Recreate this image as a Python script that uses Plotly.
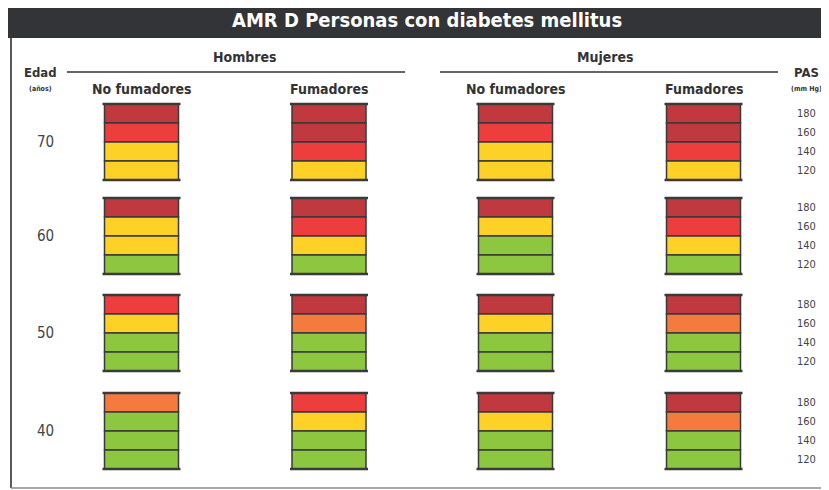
import plotly.graph_objects as go

# Datos: nivel de riesgo (1 verde ... 5 rojo oscuro) por edad y grupo
# cada lista: PAS 180, 160, 140, 120 (de arriba a abajo)
edades = [70, 60, 50, 40]
grupos = ["Hombres No fumadores", "Hombres Fumadores", "Mujeres No fumadores", "Mujeres Fumadores"]
pas = [180, 160, 140, 120]

riesgo_70 = [[5, 4, 2, 2], [5, 5, 4, 2], [5, 4, 2, 2], [5, 5, 4, 2]]
riesgo_60 = [[5, 2, 2, 1], [5, 4, 2, 1], [5, 2, 1, 1], [5, 4, 2, 1]]
riesgo_50 = [[4, 2, 1, 1], [5, 3, 1, 1], [5, 2, 1, 1], [5, 3, 1, 1]]
riesgo_40 = [[3, 1, 1, 1], [4, 2, 1, 1], [5, 2, 1, 1], [5, 3, 1, 1]]
riesgos = [riesgo_70, riesgo_60, riesgo_50, riesgo_40]

colores = {1: "#8dc63f", 2: "#fdd125", 3: "#f47b3d", 4: "#ee3d3d", 5: "#c0393f"}

# Layout en pixeles (coordenadas de la imagen)
col_x = [141.5, 329, 515.5, 703.5]
fila_y = [104, 198, 295, 393]
alto_celda = 19
ancho = 74
borde = "#3a3a3a"
fuente = "DejaVu Sans Condensed, Liberation Sans Narrow, Arial Narrow, sans-serif"
off = 8  # margen del body de la pagina

xs, bases, altos, cols = [], [], [], []
for r, edad in enumerate(edades):
    for c in range(len(grupos)):
        for k in range(len(pas)):
            xs.append(col_x[c])
            bases.append(fila_y[r] + k * alto_celda)
            altos.append(alto_celda)
            cols.append(colores[riesgos[r][c][k]])

fig = go.Figure()
fig.add_trace(go.Bar(x=xs, y=altos, base=bases, width=ancho,
                     marker=dict(color=cols, line=dict(color=borde, width=1.5)),
                     hoverinfo="skip", showlegend=False))

# tapas superior e inferior de cada bloque
cx, cy = [], []
for r in range(len(edades)):
    for c in range(len(grupos)):
        for yy in [fila_y[r], fila_y[r] + 4 * alto_celda]:
            cx += [col_x[c] - ancho / 2 - 2, col_x[c] + ancho / 2 + 2, None]
            cy += [yy, yy, None]
fig.add_trace(go.Scatter(x=cx, y=cy, mode="lines", line=dict(color=borde, width=2.5),
                         hoverinfo="skip", showlegend=False))

# barra de titulo y marco
fig.add_shape(type="rect", x0=0, x1=829, y0=3, y1=38, fillcolor="#333438", line_width=0, layer="below")
fig.add_shape(type="line", x0=11, x1=11, y0=38, y1=488, line=dict(color="#5a5a5a", width=2))
fig.add_shape(type="line", x0=11, x1=829, y0=488, y1=488, line=dict(color="#8a8a8a", width=1.5))
fig.add_shape(type="line", x0=67, x1=405, y0=72, y1=72, line=dict(color="#333", width=1.5))
fig.add_shape(type="line", x0=440, x1=778, y0=72, y1=72, line=dict(color="#333", width=1.5))

def texto(x, y, t, size, color="#333", bold=True):
    fig.add_annotation(x=x, y=y, text=f"<b>{t}</b>" if bold else t, showarrow=False,
                       font=dict(family=fuente, size=size, color=color),
                       xanchor="center", yanchor="middle")

texto(427, 20, "AMR D Personas con diabetes mellitus", 20, "white")
texto(245, 57, "Hombres", 14)
texto(605, 57, "Mujeres", 14)
texto(40, 72, "Edad", 13)
texto(40, 89, "(años)", 7)
texto(806, 72, "PAS", 13)
texto(806, 89, "(mm Hg)", 7)
for c, g in enumerate(grupos):
    texto(col_x[c], 89, g.split(" ", 1)[1], 14)
for r, edad in enumerate(edades):
    texto(45, fila_y[r] + 2 * alto_celda, str(edad), 15, "#444", bold=False)
    for k, p in enumerate(pas):
        texto(806, fila_y[r] + (k + 0.5) * alto_celda, str(p), 11, "#444", bold=False)

fig.update_layout(width=829 - off, height=490 - off, margin=dict(l=0, r=0, t=0, b=0),
                  plot_bgcolor="white", paper_bgcolor="white", barmode="overlay",
                  xaxis=dict(range=[off, 829], visible=False, fixedrange=True),
                  yaxis=dict(range=[490, off], visible=False, fixedrange=True))

fig.write_html("out.html")
